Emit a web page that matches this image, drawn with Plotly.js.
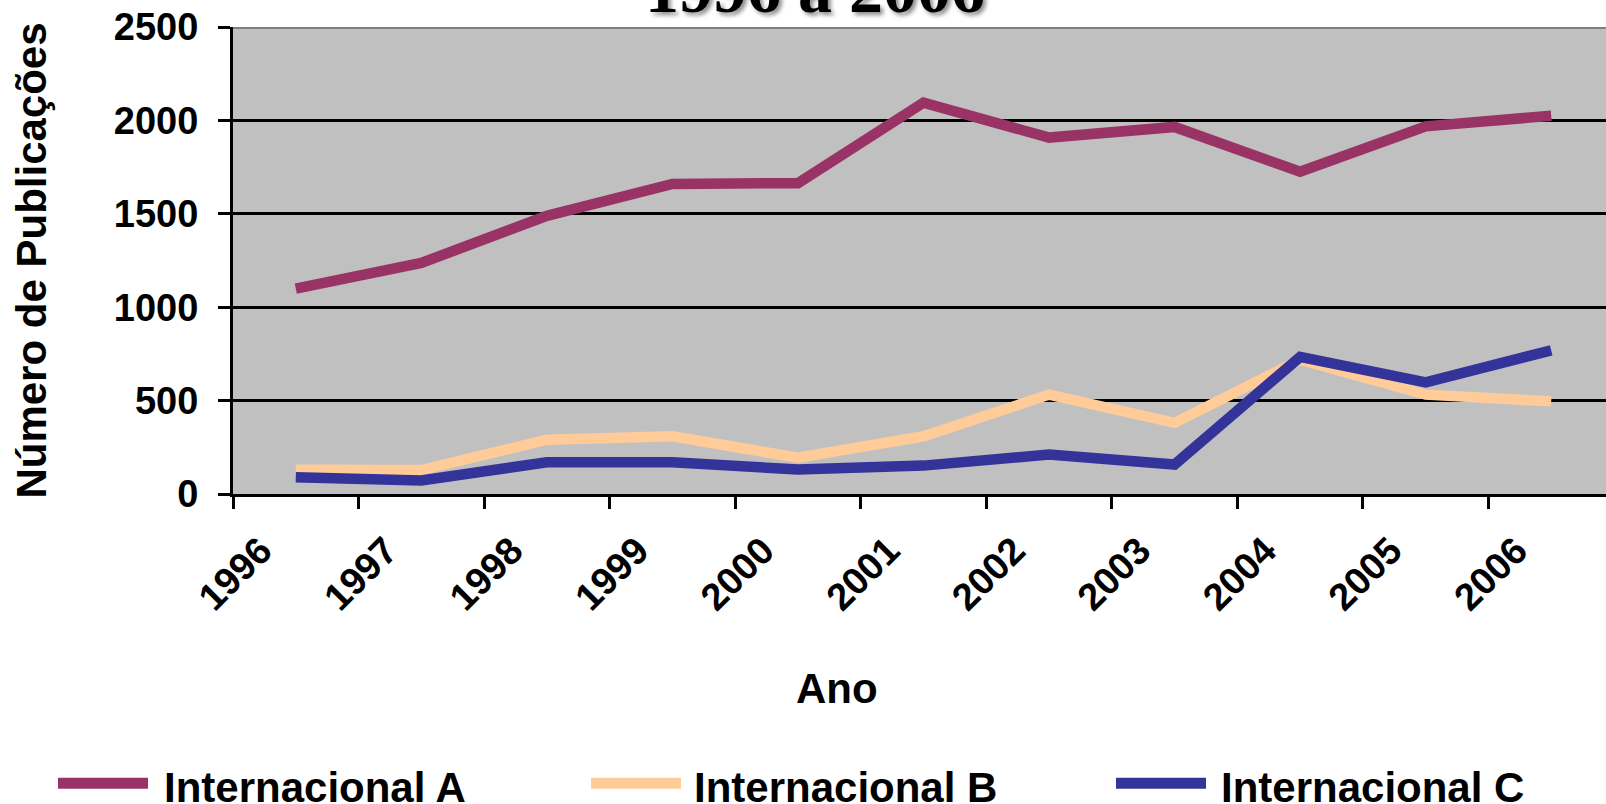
<!DOCTYPE html>
<html>
<head>
<meta charset="utf-8">
<script src="https://cdn.plot.ly/plotly-3.0.1.min.js"></script>
<style>
html,body{margin:0;padding:0;overflow:hidden;background:#fff;}
#chart{width:1620px;height:804px;}
</style>
</head>
<body>
<div id="chart"></div>
<script>
// ---- data ----
const years = ['1996','1997','1998','1999','2000','2001','2002','2003','2004','2005','2006'];
const seriesNames = ['Internacional A','Internacional B','Internacional C'];
const internacionalA = [1100, 1237, 1489, 1660, 1664, 2095, 1908, 1965, 1725, 1968, 2025];
const internacionalB = [130, 128, 291, 309, 194, 309, 532, 381, 719, 532, 496];
const internacionalC = [90, 72, 170, 170, 131, 152, 211, 158, 734, 598, 769];
const seriesColors = ['#993366', '#FFCC99', '#333399'];
const yTicks = [0, 500, 1000, 1500, 2000, 2500];
const titleText = '1996 a 2006';
const xTitle = 'Ano';
const yTitle = 'Número de Publicações';

// ---- layout helpers (pixel -> paper) ----
const W = 1620, H = 804;
const M = {l: 233, r: 6, t: 27, b: 309.5};
const PW = W - M.l - M.r, PH = H - M.t - M.b;
const px = x => (x - M.l) / PW;
const py = y => (H - M.b - y) / PH;

const FONT = 'Arial, "Liberation Sans", sans-serif';
const values = [internacionalA, internacionalB, internacionalC];

const traces = values.map((v, i) => ({
  type: 'scatter', mode: 'lines', x: years, y: v, name: seriesNames[i],
  line: {color: seriesColors[i], width: 10.5}, showlegend: false, hoverinfo: 'x+y+name'
}));

// manual legend (long swatches like the original)
const legendLine = [[58, 148], [591, 681], [1116, 1206]];
const legendText = [162, 692, 1219];
const legendY = 784;

const shapes = [
  {type: 'line', xref: 'paper', yref: 'y', x0: 0, x1: 1, y0: yTicks[yTicks.length-1], y1: yTicks[yTicks.length-1],
   line: {color: '#808080', width: 4}}
];
const annotations = [
  {xref: 'paper', yref: 'paper', x: px(837), y: py(689), xanchor: 'center', yanchor: 'middle', showarrow: false,
   text: xTitle, font: {family: FONT, size: 42, color: '#000', weight: 'bold'}}
];
seriesNames.forEach((n, i) => {
  shapes.push({type: 'line', xref: 'paper', yref: 'paper', x0: px(legendLine[i][0]), x1: px(legendLine[i][1]),
    y0: py(legendY), y1: py(legendY), line: {color: seriesColors[i], width: 11}});
  annotations.push({xref: 'paper', yref: 'paper', x: px(legendText[i]), y: py(788), xanchor: 'left', yanchor: 'middle',
    showarrow: false, text: n, font: {family: FONT, size: 42, color: '#000', weight: 'bold'}});
});

const layout = {
  width: W, height: H,
  margin: M,
  paper_bgcolor: '#ffffff',
  plot_bgcolor: '#C0C0C0',
  showlegend: false,
  title: {text: titleText, x: 815 / W, xanchor: 'center', xref: 'container', yref: 'container',
    y: 1 - 12 / H, yanchor: 'bottom',
    font: {family: '"Times New Roman", "Liberation Serif", serif', size: 68, color: '#000', weight: 'bold',
      shadow: '3px 3px 4px rgba(0,0,0,0.45)'}},
  xaxis: {
    type: 'category', range: [-0.5, years.length - 0.5], tickson: 'boundaries',
    ticks: 'outside', ticklen: 12, tickwidth: 3, tickcolor: '#000',
    showline: true, linecolor: '#000', linewidth: 3, showgrid: false, zeroline: false,
    tickangle: -45, ticklabelshift: -35, ticklabelstandoff: 16,
    tickfont: {family: FONT, size: 38, color: '#000', weight: 'bold'}
  },
  yaxis: {
    range: [0, 2500], tickvals: yTicks, ticks: 'outside', ticklen: 12, tickwidth: 3, tickcolor: '#000',
    showline: true, linecolor: '#000', linewidth: 3, showgrid: true, gridcolor: '#000', gridwidth: 3,
    zeroline: false, ticklabelstandoff: 12,
    tickfont: {family: FONT, size: 38, color: '#000', weight: 'bold'},
    title: {text: yTitle, standoff: 55, font: {family: FONT, size: 42, color: '#000', weight: 'bold'}}
  },
  shapes: shapes,
  annotations: annotations
};

Plotly.newPlot('chart', traces, layout, {displayModeBar: false, staticPlot: true});
</script>
</body>
</html>
